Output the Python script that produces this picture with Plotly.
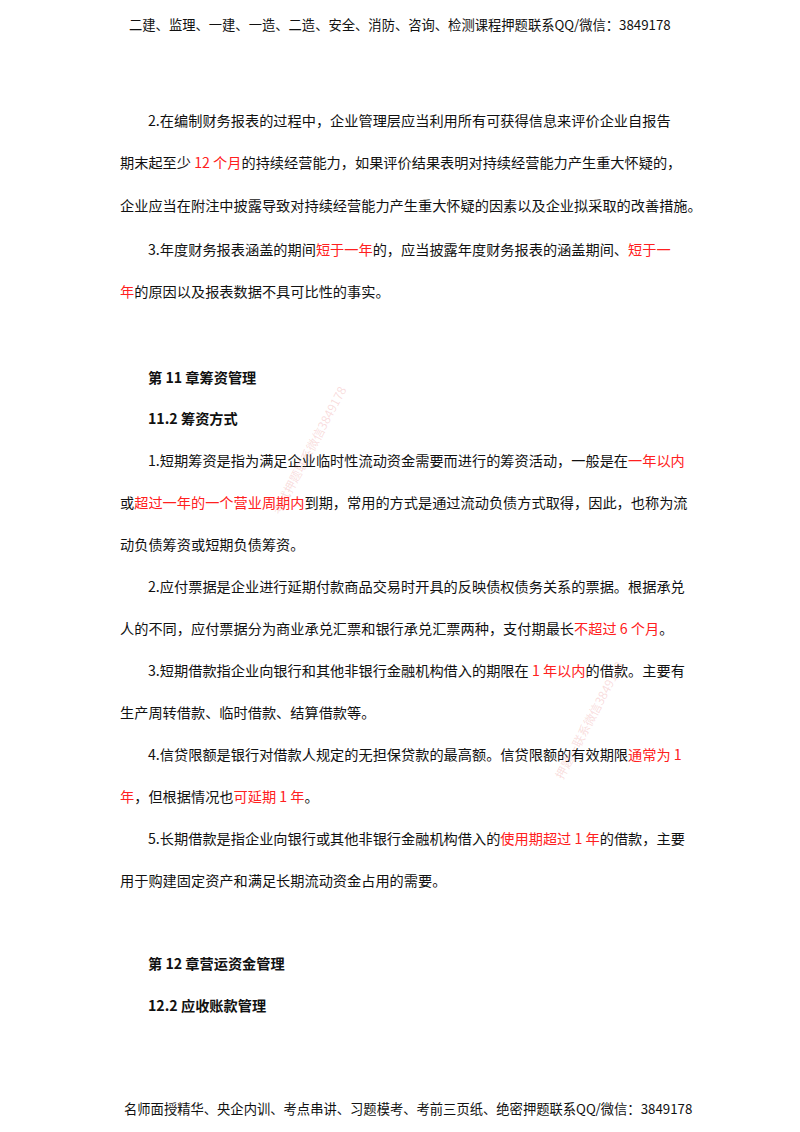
import plotly.graph_objects as go

R = "#ff2020"
header = "二建、监理、一建、一造、二造、安全、消防、咨询、检测课程押题联系QQ/微信：3849178"
footer = "名师面授精华、央企内训、考点串讲、习题模考、考前三页纸、绝密押题联系QQ/微信：3849178"

# each line: (x_px, y_px, bold, [(text, red?)...])
lines = [
    (148, 120, False, [("2.在编制财务报表的过程中，企业管理层应当利用所有可获得信息来评价企业自报告", 0)]),
    (120, 162, False, [("期末起至少 ", 0), ("12 个月", 1), ("的持续经营能力，如果评价结果表明对持续经营能力产生重大怀疑的，", 0)]),
    (120, 205, False, [("企业应当在附注中披露导致对持续经营能力产生重大怀疑的因素以及企业拟采取的改善措施。", 0)]),
    (148, 249, False, [("3.年度财务报表涵盖的期间", 0), ("短于一年", 1), ("的，应当披露年度财务报表的涵盖期间、", 0), ("短于一", 1)]),
    (120, 291, False, [("年", 1), ("的原因以及报表数据不具可比性的事实。", 0)]),
    (148, 377, True, [("第 11 章筹资管理", 0)]),
    (148, 418, True, [("11.2 筹资方式", 0)]),
    (148, 460, False, [("1.短期筹资是指为满足企业临时性流动资金需要而进行的筹资活动，一般是在", 0), ("一年以内", 1)]),
    (120, 502, False, [("或", 0), ("超过一年的一个营业周期内", 1), ("到期，常用的方式是通过流动负债方式取得，因此，也称为流", 0)]),
    (120, 544, False, [("动负债筹资或短期负债筹资。", 0)]),
    (148, 586, False, [("2.应付票据是企业进行延期付款商品交易时开具的反映债权债务关系的票据。根据承兑", 0)]),
    (120, 628, False, [("人的不同，应付票据分为商业承兑汇票和银行承兑汇票两种，支付期最长", 0), ("不超过 6 个月", 1), ("。", 0)]),
    (148, 670, False, [("3.短期借款指企业向银行和其他非银行金融机构借入的期限在 ", 0), ("1 年以内", 1), ("的借款。主要有", 0)]),
    (120, 712, False, [("生产周转借款、临时借款、结算借款等。", 0)]),
    (148, 754, False, [("4.信贷限额是银行对借款人规定的无担保贷款的最高额。信贷限额的有效期限", 0), ("通常为 1", 1)]),
    (120, 796, False, [("年", 1), ("，但根据情况也", 0), ("可延期 1 年", 1), ("。", 0)]),
    (148, 838, False, [("5.长期借款是指企业向银行或其他非银行金融机构借入的", 0), ("使用期超过 1 年", 1), ("的借款，主要", 0)]),
    (120, 880, False, [("用于购建固定资产和满足长期流动资金占用的需要。", 0)]),
    (148, 963, True, [("第 12 章营运资金管理", 0)]),
    (148, 1005, True, [("12.2 应收账款管理", 0)]),
]

W, H = 800, 1132
DX, DY = -10, -8
fig = go.Figure()
ann = []
def add(x, y, text, size=14, anchor="left", color="#111", angle=0, dx=DX):
    ann.append(dict(x=(x + dx) / W, y=1 - (y + DY) / H, xref="paper", yref="paper", text=text,
                    showarrow=False, xanchor=anchor, yanchor="middle", textangle=angle,
                    font=dict(family="Noto Sans CJK SC", size=size, color=color)))

add(400, 25, header, 13.3, "center", dx=-8)
add(400, 1108, footer, 13.3, "center", dx=0)
for x, y, bold, segs in lines:
    t = "".join(f"<span style='color:{R}'>{s}</span>" if r else s for s, r in segs)
    if bold:
        t = "<b>" + t + "</b>"
    add(x, y, t, 14.2)
add(310, 450, "考试押题联系微信3849178", 12, "center", "rgba(230,120,120,0.25)", -62)
add(590, 720, "押题一联系微信3849178", 12, "center", "rgba(230,120,120,0.25)", -62)

fig.update_layout(width=W, height=H, margin=dict(l=0, r=0, t=0, b=0),
                  paper_bgcolor="white", plot_bgcolor="white", annotations=ann,
                  xaxis=dict(visible=False), yaxis=dict(visible=False))
fig.write_html("out.html")
